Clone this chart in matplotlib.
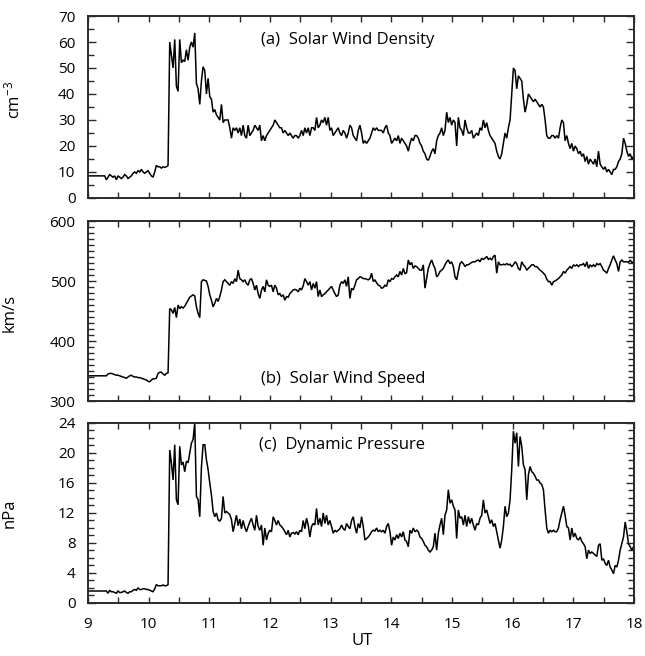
import numpy as np
import matplotlib
matplotlib.use("Agg")
import matplotlib.pyplot as plt
from matplotlib.ticker import MultipleLocator

plt.rcParams['font.family'] = ['Open Sans', 'DejaVu Sans']
plt.rcParams['mathtext.default'] = 'regular'

STEP_MIN = 1.65
START_UT = 9.0

density = [8.5]*11 + [
    7, 8, 9, 8.5, 8, 8.5, 7, 8.5, 8, 7.5,
    8, 9, 8.5, 7.5, 8, 8.5, 9.5, 10, 9.5, 10.5,
    10, 11, 10, 9.5, 10, 10.5, 9.5, 8.5, 8, 10,
    12.5, 12, 12, 11.5, 12, 11.8, 12, 12.5, 60, 55,
    50, 61, 43, 41, 61, 52, 53, 52.5, 57, 53,
    58, 60, 58, 63.5, 44, 42, 36, 45, 50.5, 49,
    40, 46, 39, 38, 33, 34, 32, 31, 30, 36,
    29, 30, 30, 30, 27, 23, 27, 26, 27, 25,
    27, 24, 28, 24, 23, 28, 24, 25, 26, 28,
    27, 26, 28, 22, 24, 22, 24, 25, 26, 27,
    28, 30, 29, 28, 27, 27, 25, 26, 25, 24,
    25, 24, 23, 24, 24, 23, 24, 26, 24, 27,
    25, 27, 24, 27, 27, 26, 31, 27, 28, 30,
    29, 31, 28, 31, 26, 27, 24, 25, 26, 27,
    25, 24, 26, 25, 23, 25, 28, 27, 24, 23,
    22, 26, 28, 25, 21, 22, 21, 22, 23, 25,
    27, 26, 27, 26, 26, 26, 25, 27, 28, 25,
    24, 21, 22, 23, 22, 24, 21, 23, 22, 21,
    20, 18, 21, 23, 22, 24, 24, 23, 21, 20,
    18, 17, 15, 14.5, 16, 18, 19, 17, 22, 24,
    25, 27, 24, 26, 33, 29, 31, 28, 30, 29,
    20, 31, 27, 26, 24, 30, 27, 25, 25, 26,
    23, 24, 25, 24, 27, 26, 30, 27, 29, 26,
    24, 23, 22, 21, 18, 16, 15, 17, 21, 25,
    23, 27, 30, 40, 50, 49, 42, 47, 46, 45,
    38, 33, 36, 40, 39, 38, 37, 38, 37, 36,
    35, 36, 35, 30, 24, 23, 23, 24, 24, 23,
    24, 23, 27, 30, 29, 22, 24, 21, 19, 21,
    18, 20, 19, 17, 18, 16, 17, 14, 16, 13,
    15, 14, 13, 15, 12, 18, 13, 12, 11, 12,
    10, 11, 10, 9, 11, 11, 12, 14, 15, 17,
    23, 21, 18, 16, 17, 15, 16]

speed = [342]*11 + [
    342, 345, 346, 346, 345, 344, 343, 343, 342, 341,
    340, 339, 338, 340, 342, 343, 341, 340, 340, 339,
    339, 338, 337, 336, 335, 333, 332, 335, 337, 337,
    338, 346, 348, 348, 345, 343, 346, 347, 454, 452,
    446, 456, 439, 460, 454, 457, 455, 458, 463, 468,
    473, 475, 477, 475, 457, 446, 439, 499, 502, 501,
    500, 491, 477, 468, 457, 463, 471, 466, 474, 485,
    499, 502, 499, 496, 493, 499, 496, 504, 499, 518,
    504, 502, 499, 502, 496, 493, 502, 504, 496, 485,
    493, 479, 471, 485, 491, 482, 502, 493, 491, 493,
    482, 493, 488, 477, 479, 474, 477, 468, 474, 473,
    479, 482, 485, 486, 485, 482, 488, 485, 492, 504,
    499, 493, 499, 485, 496, 488, 499, 474, 485, 474,
    477, 479, 482, 485, 488, 491, 485, 479, 474, 477,
    493, 499, 496, 502, 491, 507, 471, 488, 485, 493,
    502, 504,
    507, 506, 504, 504, 503, 502, 504, 513, 499, 502,
    497, 493, 492, 488, 489, 493, 491, 502, 499, 504,
    503, 507, 510, 507, 516, 510, 521, 512, 514, 535,
    527, 531, 521, 525, 524, 521, 518, 518, 527, 488,
    504, 521, 529, 535, 527, 521, 507, 510, 516, 518,
    521, 527, 532, 535, 529, 532, 524, 507, 502, 516,
    529, 532, 529, 524, 527, 527, 529, 531, 532, 532,
    534, 535, 532, 538, 536, 538, 541, 536, 538, 535,
    541, 543, 513, 532, 527, 527, 528, 527, 529, 527,
    528, 524, 527, 532, 529, 521, 518, 532, 527, 524,
    518, 521, 524, 527, 527, 524, 524, 521, 518, 516,
    513, 510, 503, 499, 499, 493, 499, 500, 502, 504,
    507, 510, 516, 513, 518, 521, 524, 521, 527, 525,
    527, 524, 527, 527, 529, 524, 532, 521, 527, 524,
    527, 524, 529, 527, 529, 524, 518, 516, 513, 521,
    527, 535, 542, 535, 529, 516, 532, 535, 532, 532,
    532, 531, 535, 531, 532]

pressure = [1.6]*11 + [
    1.6, 1.3, 1.7, 1.5, 1.5, 1.4, 1.3, 1.6, 1.4, 1.4,
    1.5, 1.6, 1.4, 1.3, 1.5, 1.5, 1.7, 1.8, 1.7, 2.0,
    1.8, 1.8, 1.9, 1.9, 1.8, 1.8, 1.7, 1.6, 1.5, 1.9,
    2.45, 2.3, 2.3, 2.3, 2.4, 2.3, 2.3, 2.45, 20.4, 18.7,
    16.4, 21.1, 13.75, 13.1, 20.9, 18.4, 18.8, 17.5, 18.9, 18.7,
    20.0, 21.3, 21.8, 24.0, 14.2, 13.8, 11.5, 18.1, 21.1, 21.1,
    19.1, 17.8, 16.0, 14.4, 12.2, 11.5, 12.0, 11.1, 10.9, 11.3,
    14.2, 12.0, 12.2, 12.0, 11.8, 11.1, 9.5, 10.6, 11.7, 10.3,
    11.2, 9.9, 11.0, 10.1, 9.5, 10.2, 10.8, 11.3, 10.4, 9.7,
    11.7, 10.2, 9.7, 10.4, 7.7, 10.0, 8.4, 9.3, 9.7, 9.5,
    11.5, 11.0, 10.4, 11.0, 10.4, 10.2, 9.9, 9.5, 9.1, 9.7,
    8.8, 9.3, 9.4, 9.2, 9.5, 9.1, 9.7, 9.5, 11.0, 9.9,
    11.3, 10.4, 8.8, 10.2, 10.6, 10.4, 12.6, 10.4, 11.3, 10.2,
    12.0, 10.6, 11.7, 10.4, 11.0, 10.2, 9.3, 9.7, 9.5, 9.7,
    9.9, 10.4, 9.9, 9.7, 10.6, 10.2, 9.9, 11.0, 11.5, 10.2,
    9.3, 10.6,
    10.0, 11.5, 10.2, 8.4, 8.6, 8.8, 9.1, 9.5, 9.7, 9.6,
    10.0, 9.5, 9.7, 9.5, 9.7, 9.3, 10.2, 10.6, 9.5, 7.7,
    8.8, 8.4, 9.1, 8.6, 9.3, 8.8, 9.5, 8.4, 8.2, 7.5,
    9.7, 9.3, 10.0, 9.5, 9.7, 9.5, 8.8, 8.6, 8.2, 7.7,
    7.5, 7.05, 6.8, 7.05, 7.5, 9.3, 7.05, 9.3, 10.4, 11.3,
    9.1, 11.7, 12.4, 15.1, 13.3, 13.75, 12.9, 12.4, 8.6, 12.4,
    11.3, 11.5, 10.4, 11.7, 10.2, 11.5, 10.6, 11.3, 10.4, 9.7,
    10.6, 10.4, 11.3, 11.7, 13.75, 12.0, 12.4, 11.5, 10.6, 11.1,
    10.2, 10.6, 9.5, 8.4, 7.3, 8.4, 10.2, 12.9, 11.5, 12.0,
    13.75, 17.8, 22.9, 21.3, 22.7, 18.2, 22.2, 20.9, 18.4, 17.8,
    13.75, 17.1, 18.2, 17.5, 17.3, 16.9, 16.4, 16.4, 16.0, 15.8,
    15.1, 12.4, 10.0, 9.3, 9.7, 9.5, 9.7, 9.5, 9.5, 10.0,
    11.1, 12.0, 12.9, 11.7, 10.2, 10.0, 8.4, 10.0, 8.8, 9.3,
    8.6, 8.4, 8.8, 8.2, 7.9, 7.5, 5.9, 7.05, 6.6, 6.8,
    6.6, 6.4, 6.2, 7.7, 7.9, 5.7, 5.9, 5.3, 5.0, 5.7,
    4.8, 4.4, 3.9, 5.0, 4.8, 5.7, 7.05, 7.9, 8.8, 10.8,
    9.5, 7.9, 7.5, 7.05, 7.5]

panel_titles = ["(a)  Solar Wind Density", "(b)  Solar Wind Speed", "(c)  Dynamic Pressure"]
y_labels = ["cm$^{-3}$", "km/s", "nPa"]
y_limits = [(0, 70), (300, 600), (0, 24)]
y_major = [10, 100, 4]
y_minor = [5, 10, 1]
x_ticklabels = [9, 10, 11, 12, 13, 14, 15, 16, 17, 18]

series = [density, speed, pressure]

fig = plt.figure(figsize=(6.45, 6.56), dpi=100)
left, width = 0.1364, 0.8465
bottoms = [0.6982, 0.3887, 0.0808]
heights = [0.2774, 0.2744, 0.2744]
title_pos = [(0.317, 0.868), (0.317, 0.122), (0.313, 0.878)]
ylab_pos = [(-0.118, 0.54), (-0.128, 0.49), (-0.128, 0.5)]

frame_col = '#2a2a2a'
for i in range(3):
    ax = fig.add_axes([left, bottoms[i], width, heights[i]])
    vals = np.asarray(series[i], dtype=float)
    ut = START_UT + np.arange(len(vals)) * STEP_MIN / 60.0
    ax.plot(ut, vals, color='black', lw=1.1, solid_joinstyle='miter')
    ax.set_xlim(9, 18)
    ax.set_ylim(*y_limits[i])
    ax.xaxis.set_major_locator(MultipleLocator(1))
    ax.xaxis.set_minor_locator(MultipleLocator(0.5))
    ax.yaxis.set_major_locator(MultipleLocator(y_major[i]))
    ax.yaxis.set_minor_locator(MultipleLocator(y_minor[i]))
    ax.tick_params(axis='both', which='both', direction='in', top=True, right=True,
                   color=frame_col, width=1.0, labelsize=11, labelcolor='black')
    ax.tick_params(axis='x', which='both', length=4)
    ax.tick_params(axis='y', which='major', length=5.5, pad=9)
    ax.tick_params(axis='y', which='minor', length=4)
    ax.tick_params(axis='x', which='major', pad=10)
    for sp in ax.spines.values():
        sp.set_color(frame_col)
        sp.set_linewidth(1.4)
    if i < 2:
        ax.set_xticklabels([])
    else:
        ax.set_xticks(x_ticklabels)
        ax.set_xticklabels([str(v) for v in x_ticklabels])
    ax.text(title_pos[i][0], title_pos[i][1], panel_titles[i], transform=ax.transAxes,
            fontsize=12, va='center', ha='left')
    ax.set_ylabel(y_labels[i], fontsize=12)
    ax.yaxis.set_label_coords(*ylab_pos[i])

fig.text(0.561, 1 - 641/656, "UT", fontsize=12, ha='center', va='center')
fig.savefig("out.png", dpi=100)
